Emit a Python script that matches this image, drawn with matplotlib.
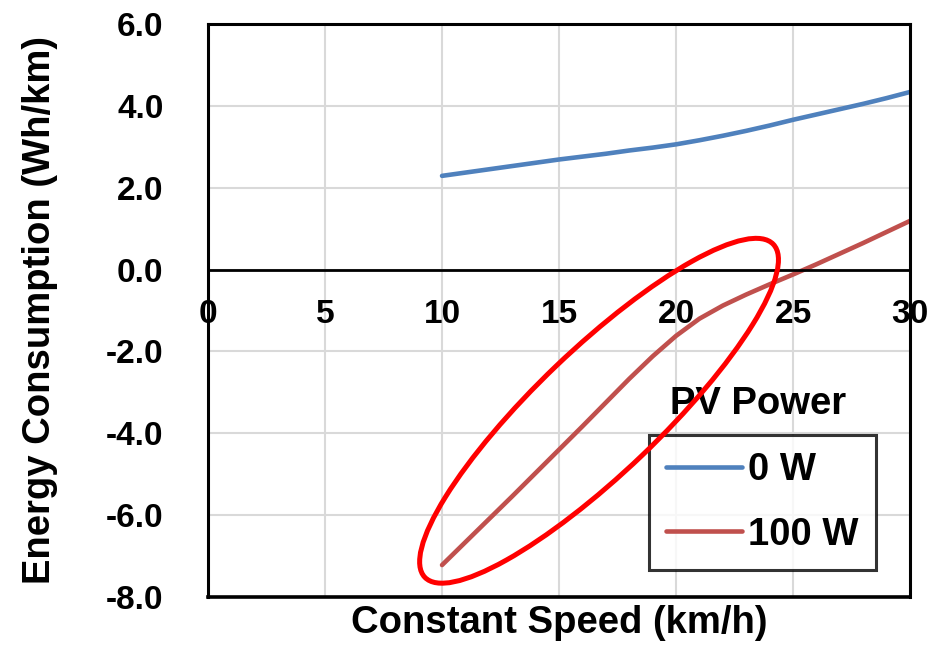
import matplotlib
matplotlib.use('Agg')
import matplotlib.pyplot as plt
from matplotlib.patches import Ellipse
from matplotlib.transforms import IdentityTransform

# data
speed = [10, 11, 12, 13, 14, 15, 16, 17, 18, 19, 20,
         21, 22, 23, 24, 25, 26, 27, 28, 29, 30]
pv_0w = [2.29, 2.37, 2.45, 2.53, 2.61, 2.69, 2.76, 2.83, 2.91, 2.98, 3.06,
         3.16, 3.27, 3.39, 3.52, 3.66, 3.79, 3.92, 4.05, 4.19, 4.34]
pv_100w = [-7.22, -6.66, -6.10, -5.54, -4.97, -4.40, -3.83, -3.25, -2.67, -2.12, -1.62,
           -1.20, -0.88, -0.61, -0.36, -0.12, 0.13, 0.39, 0.65, 0.92, 1.19]
x_ticks = [0, 5, 10, 15, 20, 25, 30]
y_ticks = [-8.0, -6.0, -4.0, -2.0, 0.0, 2.0, 4.0, 6.0]

plt.rcParams['font.family'] = ['Liberation Sans', 'DejaVu Sans']
plt.rcParams['font.weight'] = 'bold'

fig = plt.figure(figsize=(9.35, 6.46), dpi=100)
ax = fig.add_axes([0.2225, 0.0759, 0.7508, 0.8869])

ax.plot(speed, pv_0w, color='#4F81BD', lw=3.3, label='0 W', solid_capstyle='round')
ax.plot(speed, pv_100w, color='#C0504D', lw=3.3, label='100 W', solid_capstyle='round')

ax.set_xlim(0, 30)
ax.set_ylim(-8, 6)
ax.set_xticks(x_ticks)
ax.set_yticks(y_ticks)
ax.set_yticklabels(['%.1f' % v for v in y_ticks])
ax.tick_params(axis='x', length=0, pad=21, labelsize=24)
ax.tick_params(axis='y', length=0, pad=32, labelsize=24)
ax.grid(True, color='#D9D9D9', lw=1.5)
ax.set_axisbelow(True)
for sp in ax.spines.values():
    sp.set_linewidth(2.2)
    sp.set_color('black')

# x axis runs along zero, the frame keeps its bottom edge at -8
ax.spines['bottom'].set_position(('data', 0))
ax.spines['bottom'].set_linewidth(2)
ax.axhline(-8, color='black', lw=2.6, clip_on=False, zorder=3)

ax.set_xlabel('Constant Speed (km/h)', fontsize=27.5, fontweight='bold')
ax.xaxis.set_label_coords(0.5, -0.045)
ax.xaxis.label.set_va('center')
ax.set_ylabel('Energy Consumption (Wh/km)', fontsize=27.5, fontweight='bold')
ax.yaxis.set_label_coords(-0.24, 0.5)
ax.yaxis.label.set_va('center')

leg = ax.legend(loc='upper left', bbox_to_anchor=(0.628, 0.283), fontsize=27.5,
                frameon=True, fancybox=False, handlelength=2.0, handletextpad=0.15,
                labelspacing=0.75, borderpad=0.45, borderaxespad=0)
leg.get_frame().set_edgecolor('black')
leg.get_frame().set_linewidth(2.2)
for h in leg.get_lines():
    h.set_linewidth(3.3)
    h.set_solid_capstyle('round')
ax.text(0.783, 0.336, 'PV Power', transform=ax.transAxes, fontsize=27.5,
        fontweight='bold', ha='center', va='center')

# red highlight ellipse (drawn in pixels so the tilt matches)
cx, cy = ax.transData.transform((16.71, -3.45))
ring = Ellipse((cx, cy), 482, 124, angle=43.7, transform=IdentityTransform(),
               fill=False, edgecolor='#FF0000', lw=3.6, zorder=5)
fig.patches.append(ring)

fig.savefig('out.png', dpi=100)
